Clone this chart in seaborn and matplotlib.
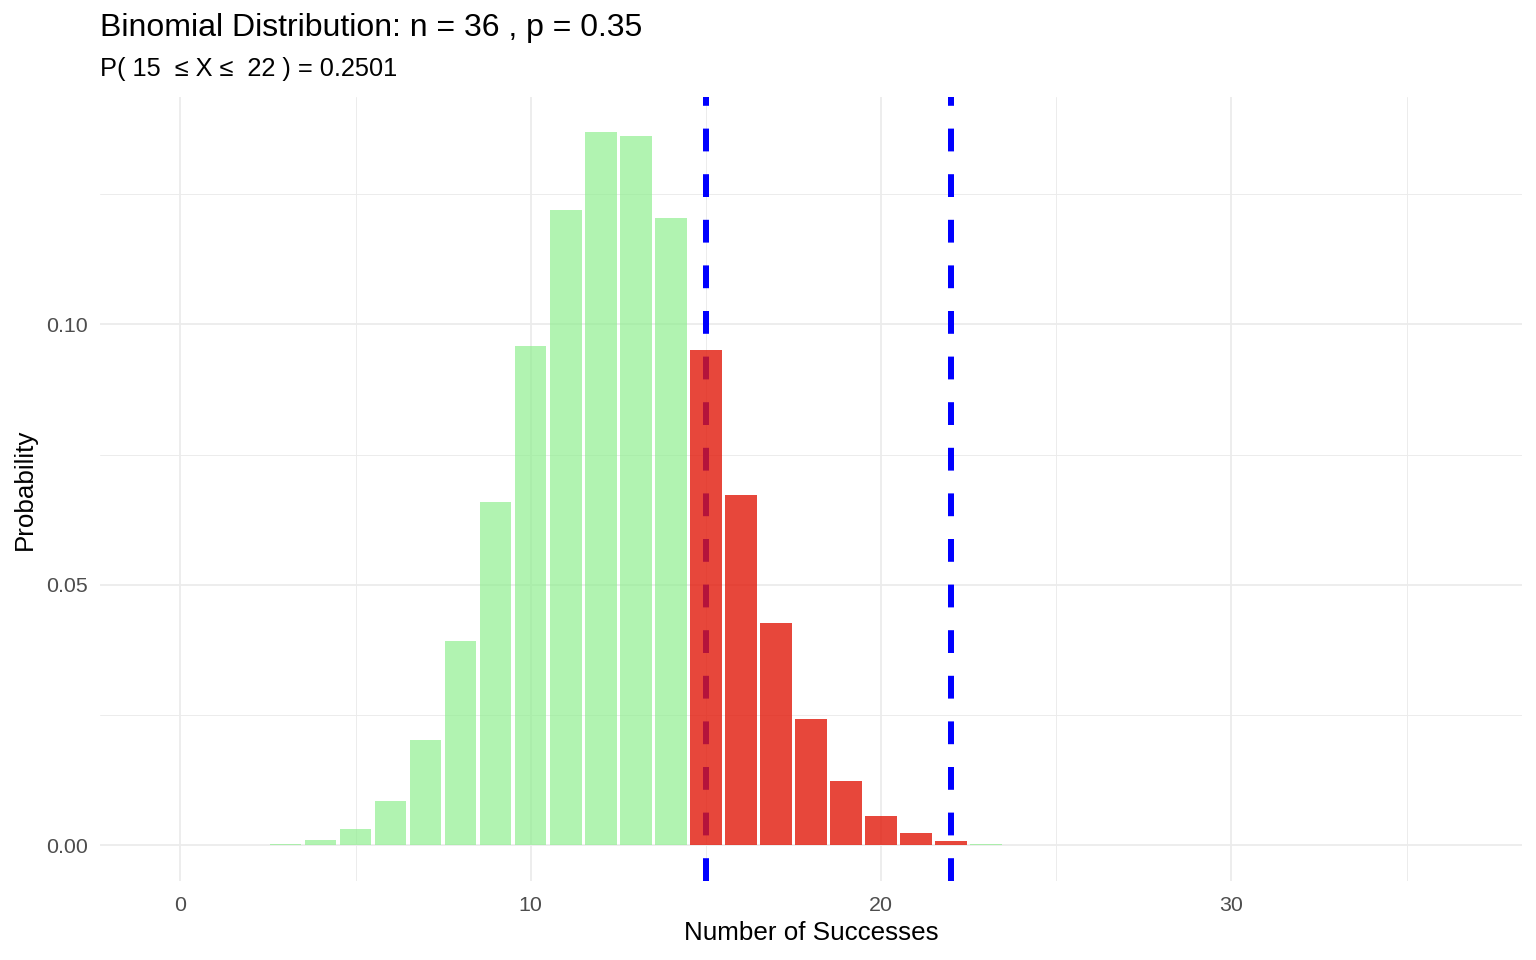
import numpy as np
import pandas as pd
import matplotlib
matplotlib.use("Agg")
import matplotlib.pyplot as plt
from matplotlib.ticker import MultipleLocator
import seaborn as sns

# values
successes = list(range(0, 37))
probability = [
    0.0, 0.0, 0.00005, 0.0003, 0.0011, 0.0031, 0.0086, 0.0202, 0.0393, 0.0658,
    0.0959, 0.1220, 0.1369, 0.1361, 0.1203, 0.0950, 0.0672, 0.0426, 0.0242, 0.0123,
    0.0056, 0.0023, 0.0008, 0.0002, 0.00006, 0.0, 0.0, 0.0, 0.0, 0.0,
    0.0, 0.0, 0.0, 0.0, 0.0, 0.0, 0.0,
]
lower, upper = 15, 22
n_trials, p_success = 36, 0.35
range_prob = 0.2501

df = pd.DataFrame({"k": successes, "prob": probability})
df["inside"] = (df["k"] >= lower) & (df["k"] <= upper)

sns.set_theme(style="white")
plt.rcParams["font.family"] = ["Liberation Sans", "DejaVu Sans"]
plt.rcParams["text.color"] = "black"

fig = plt.figure(figsize=(16, 10), dpi=96)
ax = fig.add_axes([100 / 1536, 79 / 960, 1422 / 1536, 784 / 960])

# dashed limits go under the (semi transparent) bars
for x in (lower, upper):
    ax.axvline(x, color="#0000FF", lw=4.5, dashes=(3.8, 3.8), zorder=1)

sns.barplot(data=df[~df["inside"]], x="k", y="prob", native_scale=True,
            width=0.9, color="#90EE90", alpha=0.7, saturation=1,
            errorbar=None, ax=ax, zorder=2, linewidth=0)
sns.barplot(data=df[df["inside"]], x="k", y="prob", native_scale=True,
            width=0.9, color="#E2190A", alpha=0.8, saturation=1,
            errorbar=None, ax=ax, zorder=2, linewidth=0)

ax.set_xlim(-2.295, 38.295)
ax.set_ylim(-0.00684, 0.1436)
ax.xaxis.set_major_locator(MultipleLocator(10))
ax.xaxis.set_minor_locator(MultipleLocator(5))
ax.yaxis.set_major_locator(MultipleLocator(0.05))
ax.yaxis.set_minor_locator(MultipleLocator(0.025))
ax.yaxis.set_major_formatter(matplotlib.ticker.FormatStrFormatter("%.2f"))
ax.set_axisbelow(True)
ax.grid(which="major", color="#EBEBEB", lw=1.3)
ax.grid(which="minor", color="#EBEBEB", lw=0.7)
for s in ax.spines.values():
    s.set_visible(False)
ax.tick_params(which="both", length=0)
ax.tick_params(axis="x", labelsize=16, labelcolor="#4D4D4D", pad=11)
ax.tick_params(axis="y", labelsize=16, labelcolor="#4D4D4D", pad=9)

ax.set_xlabel("Number of Successes", fontsize=19.5, color="black", labelpad=5)
ax.set_ylabel("Probability", fontsize=19.5, color="black", labelpad=7)

fig.text(100 / 1536, 1 - 36 / 960,
         f"Binomial Distribution: n = {n_trials} , p = {p_success}",
         fontsize=24, va="baseline", ha="left", color="black")
fig.text(100 / 1536, 1 - 76 / 960,
         f"P( {lower}  ≤ X ≤  {upper} ) = {range_prob}",
         fontsize=19, va="baseline", ha="left", color="black")

fig.savefig("out.png", dpi=96)
